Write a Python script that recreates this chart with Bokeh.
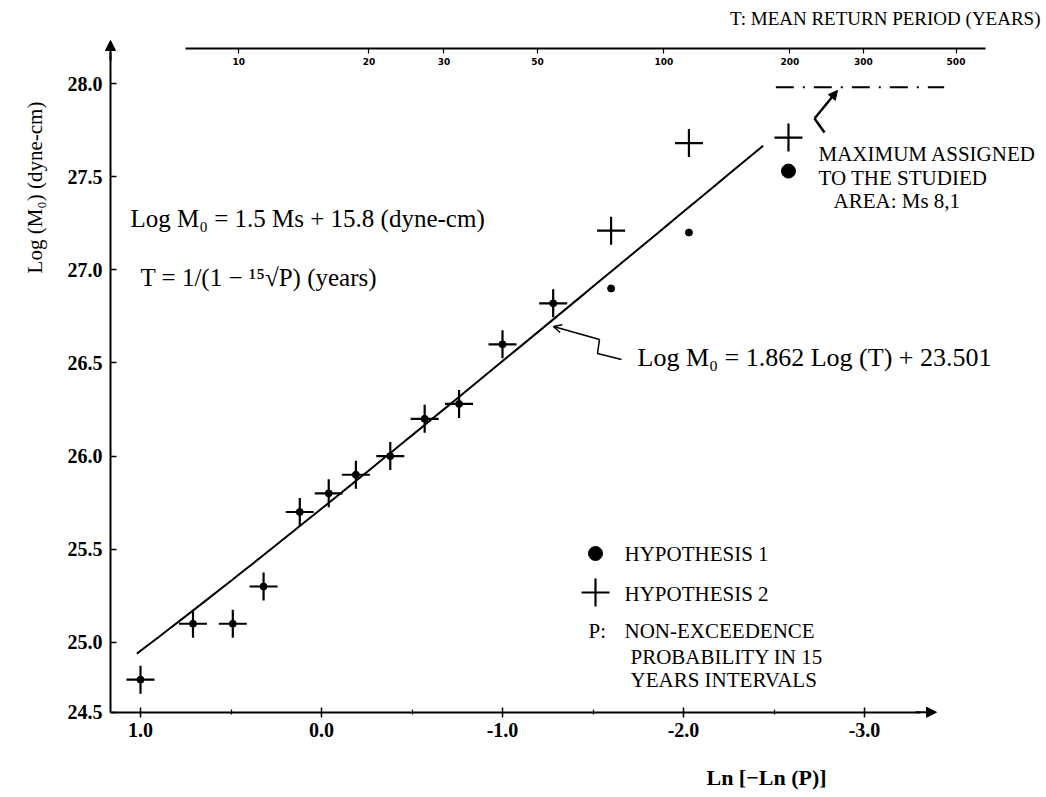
import math
import numpy as np
from bokeh.plotting import figure
from bokeh.models import (Range1d, LinearAxis, FixedTicker, Label, Arrow,
                          NormalHead, OpenHead, PrintfTickFormatter)
from bokeh.embed import file_html
from bokeh.resources import INLINE

# ---------------- data ----------------
ln_neg_ln_p = [1.0, 0.71, 0.49, 0.32, 0.12, -0.04, -0.19, -0.38, -0.57, -0.76,
               -1.0, -1.28, -1.60, -2.03, -2.58]
hyp2_logm0 = [24.80, 25.10, 25.10, 25.30, 25.70, 25.80, 25.90, 26.00, 26.20, 26.28,
              26.60, 26.82, 27.21, 27.68, 27.71]
hyp1_logm0 = [24.80, 25.10, 25.10, 25.30, 25.70, 25.80, 25.90, 26.00, 26.20, 26.28,
              26.60, 26.82, 26.90, 27.20, 27.53]

x_ticks = [1.0, 0.0, -1.0, -2.0, -3.0]
x_minor_ticks = [0.5, -0.5, -1.5, -2.5]
y_ticks = [25.0, 25.5, 26.0, 26.5, 27.0, 27.5, 28.0]
return_periods = [10, 20, 30, 50, 100, 200, 300, 500]   # top axis (years)
interval_years = 15

fit_slope = 1.862
fit_intercept = 23.501
fit_x_ends = [1.02, -2.44]

max_logm0 = 27.98           # maximum assigned (Ms 8,1)
max_x_ends = [-2.51, -3.44]

FONT = "Liberation Serif"
W, H = 1046, 797

# -------- helpers: conversion between x = Ln[-Ln(P)] and T (years) --------
def x_of_T(T):
    return math.log(-interval_years * math.log(1.0 - 1.0 / T))


def T_of_x(x):
    return 1.0 / (1.0 - np.exp(-np.exp(x) / interval_years))


# helpers to place annotations (pixel -> data) on this figure's scales
def dx(px):
    return 1.0 - (px - 140.0) / 181.0


def dy(py):
    return 28.0 - (py - 83.0) / 186.3


Y_BOTTOM = 24.625   # value at the axis corner (labelled 24.5 in the original)

p = figure(width=W, height=H,
           x_range=Range1d(dx(0), dx(W)),
           y_range=Range1d(dy(H), dy(0)),
           x_axis_type=None, y_axis_type=None,
           output_backend="svg", toolbar_location=None,
           min_border=0, min_border_left=0, min_border_right=0,
           min_border_top=0, min_border_bottom=0)
p.outline_line_color = None
p.background_fill_color = "white"
p.border_fill_color = "white"

# ---------------- axes ----------------
yaxis = LinearAxis(
    fixed_location=dx(110),
    ticker=FixedTicker(ticks=[Y_BOTTOM] + y_ticks, minor_ticks=[]),
    formatter=PrintfTickFormatter(format="%.1f"),
    major_label_overrides={Y_BOTTOM: "24.5"},
    bounds=(Y_BOTTOM, dy(52)),
    axis_line_width=2, axis_line_color="black",
    major_tick_in=6, major_tick_out=0, major_tick_line_width=1.5,
    minor_tick_in=0, minor_tick_out=0,
    major_label_standoff=8,
    major_label_text_font=FONT, major_label_text_font_style="bold",
    major_label_text_font_size="20px", major_label_text_color="black")
p.add_layout(yaxis, "left")

xaxis = LinearAxis(
    fixed_location=Y_BOTTOM,
    ticker=FixedTicker(ticks=x_ticks, minor_ticks=x_minor_ticks),
    formatter=PrintfTickFormatter(format="%.1f"),
    bounds=(dx(920), dx(110)),
    axis_line_width=2, axis_line_color="black",
    major_tick_in=5, major_tick_out=5, major_tick_line_width=1.5,
    minor_tick_in=3, minor_tick_out=2, minor_tick_line_width=1.2,
    major_label_standoff=6,
    major_label_text_font=FONT, major_label_text_font_style="bold",
    major_label_text_font_size="20px", major_label_text_color="black")
p.add_layout(xaxis, "below")

top_positions = [x_of_T(t) for t in return_periods]
top_axis = LinearAxis(
    fixed_location=dy(48),
    ticker=FixedTicker(ticks=top_positions, minor_ticks=[]),
    major_label_overrides={pos: str(t) for pos, t in zip(top_positions, return_periods)},
    bounds=(dx(985), dx(185)),
    axis_line_width=2, axis_line_color="black",
    major_tick_in=0, major_tick_out=5, major_tick_line_width=1.2,
    minor_tick_in=0, minor_tick_out=0,
    major_label_standoff=4,
    major_label_text_font="DejaVu Sans", major_label_text_font_style="bold",
    major_label_text_font_size="9px", major_label_text_color="black")
p.add_layout(top_axis, "below")

# axis arrows
p.add_layout(Arrow(end=NormalHead(size=10, fill_color="black", line_color="black"),
                   x_start=dx(110), y_start=dy(60), x_end=dx(110), y_end=dy(40),
                   line_width=2, line_color="black"))
p.add_layout(Arrow(end=NormalHead(size=10, fill_color="black", line_color="black"),
                   x_start=dx(915), y_start=Y_BOTTOM, x_end=dx(936), y_end=Y_BOTTOM,
                   line_width=2, line_color="black"))

# ---------------- data marks ----------------
fit_x = np.linspace(fit_x_ends[0], fit_x_ends[1], 60)
fit_y = fit_slope * np.log10(T_of_x(fit_x)) + fit_intercept
p.line(fit_x, fit_y, line_width=2, line_color="black")

p.scatter(ln_neg_ln_p, hyp2_logm0, marker="cross", size=28, line_width=2.2,
          line_color="black")
p.scatter(ln_neg_ln_p[:-1], hyp1_logm0[:-1], marker="circle", size=7,
          fill_color="black", line_color="black")
p.scatter(ln_neg_ln_p[-1:], hyp1_logm0[-1:], marker="circle", size=14,
          fill_color="black", line_color="black")

# maximum assigned (dash-dot)
p.line(max_x_ends, [max_logm0, max_logm0], line_width=2, line_color="black",
       line_dash="18 9 2 9")

# ---------------- pointers ----------------
p.line([dx(621), dx(597), dx(599)], [dy(359), dy(353), dy(339)],
       line_width=1.5, line_color="black")
p.add_layout(Arrow(end=OpenHead(size=8, line_width=1.5, line_color="black"),
                   x_start=dx(599), y_start=dy(339), x_end=dx(553), y_end=dy(326),
                   line_width=1.5, line_color="black"))
p.line([dx(824), dx(814)], [dy(132), dy(118)], line_width=2.5, line_color="black")
p.add_layout(Arrow(end=NormalHead(size=9, fill_color="black", line_color="black"),
                   x_start=dx(814), y_start=dy(118), x_end=dx(837), y_end=dy(90),
                   line_width=2.5, line_color="black"))

# ---------------- legend (drawn by hand like the reference) ----------------
p.scatter([dx(595)], [dy(553)], marker="circle", size=14, fill_color="black",
          line_color="black")
p.scatter([dx(595)], [dy(592)], marker="cross", size=28, line_width=2.2,
          line_color="black")


def label(px, py, text, size="21px", align="left", style="normal", angle=0.0):
    p.add_layout(Label(x=dx(px), y=dy(py), text=text, text_font=FONT,
                       text_font_size=size, text_align=align,
                       text_baseline="middle", text_font_style=style,
                       text_color="black", angle=angle))


label(624, 553, "HYPOTHESIS 1")
label(624, 593, "HYPOTHESIS 2")
label(588, 630, "P:")
label(624, 630, "NON-EXCEEDENCE")
label(630, 656, "PROBABILITY IN 15")
label(630, 679, "YEARS INTERVALS")

# ---------------- texts ----------------
label(130, 218, "Log M\u2080 = 1.5 Ms + 15.8 (dyne-cm)", size="25px")
label(140, 277, "T = 1/(1 \u2212 \u00b9\u2075\u221aP)  (years)", size="25px")
label(637, 357, "Log M\u2080 = 1.862 Log (T) + 23.501", size="26px")
label(818, 153, "MAXIMUM ASSIGNED", size="21px")
label(818, 177, "TO THE STUDIED", size="21px")
label(833, 200, "AREA: Ms 8,1", size="21px")

label(1040, 18, "T: MEAN RETURN PERIOD (YEARS)", size="19px", align="right")
label(766, 777, "Ln [\u2212Ln (P)]", size="22px", align="center", style="bold")
label(34, 187, "Log (M\u2080) (dyne-cm)", size="21px", align="center",
      angle=math.pi / 2)

open("out.html", "w").write(file_html(p, INLINE))
